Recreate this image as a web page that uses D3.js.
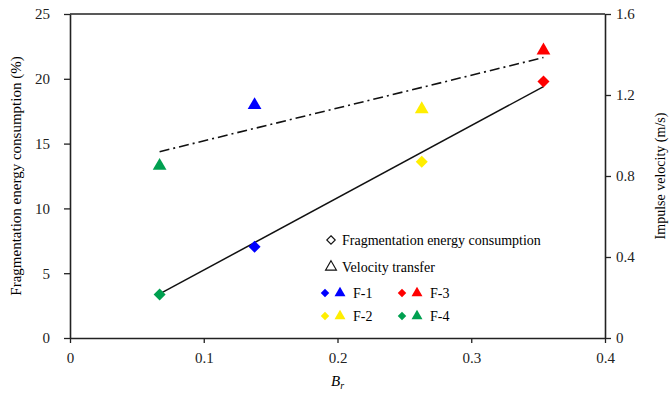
<!DOCTYPE html>
<html>
<head>
<meta charset="utf-8">
<script src="https://cdn.jsdelivr.net/npm/d3@7"></script>
<style>
  body { margin: 0; background: #fff; }
  svg { display: block; font-family: "Liberation Serif", "Times New Roman", serif; }
</style>
</head>
<body>
<div id="chart"></div>
<script>
// data
const groups = ["F-1", "F-2", "F-3", "F-4"];
const brValues = [0.138, 0.263, 0.354, 0.067];
const energyValues = [7.05, 13.6, 19.8, 3.35];     // % (left axis)
const velocityValues = [1.15, 1.13, 1.42, 0.85];   // m/s (right axis)

// fitted lines (end points)
const fitBr = [0.067, 0.354];
const fitEnergy = [3.4, 19.4];
const fitVelocity = [0.92, 1.385];

const xTicks = [0, 0.1, 0.2, 0.3, 0.4];
const leftTicks = [0, 5, 10, 15, 20, 25];
const rightTicks = [0, 0.4, 0.8, 1.2, 1.6];

const groupColor = { "F-1": "#0000ff", "F-2": "#ffee00", "F-3": "#ff0000", "F-4": "#00a050" };

const W = 672, H = 397;
const MARGIN = { LEFT: 70, RIGHT: 67, TOP: 14, BOTTOM: 59 };
const WIDTH = W - MARGIN.LEFT - MARGIN.RIGHT;
const HEIGHT = H - MARGIN.TOP - MARGIN.BOTTOM;

const svg = d3.select("#chart").append("svg")
    .attr("width", W)
    .attr("height", H);

const g = svg.append("g")
    .attr("transform", `translate(${MARGIN.LEFT}, ${MARGIN.TOP})`);

const x = d3.scaleLinear().domain([0, 0.4]).range([0, WIDTH]);
const yL = d3.scaleLinear().domain([0, 25]).range([HEIGHT, 0]);
const yR = d3.scaleLinear().domain([0, 1.6]).range([HEIGHT, 0]);

const axisColor = "#222";

function styleAxis(sel) {
    sel.select(".domain").attr("stroke", axisColor).attr("stroke-width", 1.6);
    sel.selectAll(".tick line").attr("stroke", axisColor).attr("stroke-width", 1.3);
    sel.selectAll(".tick text")
        .attr("fill", "#222")
        .style("font-size", "15px")
        .style("font-family", "'Liberation Serif', serif");
}

// frame top line
g.append("line")
    .attr("x1", 0).attr("x2", WIDTH)
    .attr("y1", 0).attr("y2", 0)
    .attr("stroke", axisColor).attr("stroke-width", 1.6);

g.append("g")
    .attr("transform", `translate(0, ${HEIGHT})`)
    .call(d3.axisBottom(x).tickValues(xTicks).tickSize(5).tickSizeOuter(0)
        .tickFormat(d => d === 0 ? "0" : d3.format(".1f")(d)))
    .call(styleAxis)
    .selectAll(".tick text").attr("dy", "1.15em");

g.append("g")
    .call(d3.axisLeft(yL).tickValues(leftTicks).tickSize(6).tickSizeOuter(0))
    .call(styleAxis)
    .selectAll(".tick text").attr("x", -20);

g.append("g")
    .attr("transform", `translate(${WIDTH}, 0)`)
    .call(d3.axisRight(yR).tickValues(rightTicks).tickSize(6).tickSizeOuter(0)
        .tickFormat(d => d === 0 ? "0" : d3.format(".1f")(d)))
    .call(styleAxis)
    .selectAll(".tick text").attr("x", 11);

// axis titles
svg.append("text")
    .attr("transform", `translate(18, ${MARGIN.TOP + HEIGHT / 2}) rotate(-90)`)
    .attr("text-anchor", "middle")
    .attr("dominant-baseline", "middle")
    .style("font-size", "15px")
    .text("Fragmentation energy consumption (%)");

svg.append("text")
    .attr("transform", `translate(662, ${MARGIN.TOP + HEIGHT / 2}) rotate(-90)`)
    .attr("text-anchor", "middle")
    .attr("dominant-baseline", "middle")
    .style("font-size", "14px")
    .text("Impulse velocity (m/s)");

const xl = svg.append("text")
    .attr("x", MARGIN.LEFT + x(0.2))
    .attr("y", 386)
    .attr("text-anchor", "middle")
    .style("font-size", "15px")
    .style("font-style", "italic");
xl.append("tspan").text("B");
xl.append("tspan").attr("dy", 3).style("font-size", "10px").text("r");

// fit lines
const fitE = fitBr.map((b, i) => [b, fitEnergy[i]]);
const fitV = fitBr.map((b, i) => [b, fitVelocity[i]]);

g.append("path")
    .datum(fitE)
    .attr("d", d3.line().x(d => x(d[0])).y(d => yL(d[1])))
    .attr("fill", "none")
    .attr("stroke", "#111")
    .attr("stroke-width", 1.5);

g.append("path")
    .datum(fitV)
    .attr("d", d3.line().x(d => x(d[0])).y(d => yR(d[1])))
    .attr("fill", "none")
    .attr("stroke", "#111")
    .attr("stroke-width", 1.6)
    .attr("stroke-dasharray", "10,4,2,4");

// markers
const points = groups.map((name, i) => ({
    name, br: brValues[i], energy: energyValues[i], velocity: velocityValues[i]
}));

const diamond = d3.symbol().type(d3.symbolDiamond2).size(92);
const triangle = d3.symbol().type(d3.symbolTriangle).size(82);

g.selectAll("path.energy")
    .data(points)
    .enter().append("path")
    .attr("class", "energy")
    .attr("d", diamond)
    .attr("transform", d => `translate(${x(d.br)}, ${yL(d.energy)})`)
    .attr("fill", d => groupColor[d.name]);

g.selectAll("path.velocity")
    .data(points)
    .enter().append("path")
    .attr("class", "velocity")
    .attr("d", triangle)
    .attr("transform", d => `translate(${x(d.br)}, ${yR(d.velocity)})`)
    .attr("fill", d => groupColor[d.name]);

// legend
const legend = svg.append("g").attr("transform", "translate(340, 0)");
const smallDiamond = d3.symbol().type(d3.symbolDiamond2).size(46);
const smallTriangle = d3.symbol().type(d3.symbolTriangle).size(52);

legend.append("path")
    .attr("d", smallDiamond)
    .attr("transform", "translate(-9, 240)")
    .attr("fill", "none").attr("stroke", "#111").attr("stroke-width", 1.1);
legend.append("text")
    .attr("x", 2).attr("y", 240).attr("dy", "0.35em")
    .style("font-size", "14px")
    .text("Fragmentation energy consumption");

legend.append("path")
    .attr("d", smallTriangle)
    .attr("transform", "translate(-9, 267)")
    .attr("fill", "none").attr("stroke", "#111").attr("stroke-width", 1.1);
legend.append("text")
    .attr("x", 2).attr("y", 267).attr("dy", "0.35em")
    .style("font-size", "14px")
    .text("Velocity transfer");

const legendOrder = ["F-1", "F-3", "F-2", "F-4"];
legendOrder.forEach((name, i) => {
    const col = i % 2, row = Math.floor(i / 2);
    const lx = col * 77, ly = 293 + row * 23;
    const item = legend.append("g").attr("transform", `translate(${lx}, ${ly})`);
    item.append("path").attr("d", smallDiamond)
        .attr("transform", "translate(-15, 0)")
        .attr("fill", groupColor[name]);
    item.append("path").attr("d", smallTriangle)
        .attr("transform", "translate(0, 0)")
        .attr("fill", groupColor[name]);
    item.append("text")
        .attr("x", 13).attr("y", 0).attr("dy", "0.35em")
        .style("font-size", "14px")
        .text(name);
});
</script>
</body>
</html>
